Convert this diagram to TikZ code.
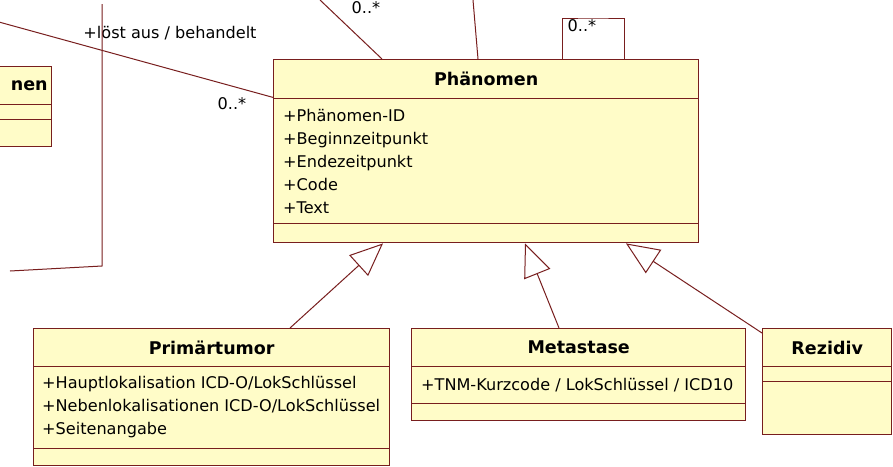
\documentclass[tikz,border=0pt]{standalone}
\usepackage{fontspec}
\setmainfont{DejaVu Sans}
\usetikzlibrary{arrows.meta,calc}
\definecolor{umlline}{RGB}{120,30,30}
\definecolor{umlfill}{RGB}{255,252,200}
\newcommand\umlfont{\fontsize{16.1}{23}\selectfont}
\newcommand\umlhdrfont{\fontsize{17.5}{23}\selectfont\bfseries}
\begin{document}
\begin{tikzpicture}[x=1pt,y=-1pt,
  comp/.style={draw=umlline, fill=umlfill, line width=1.4pt, inner sep=0pt, anchor=north west, font=\umlfont},
  hdr/.style={comp, font=\umlhdrfont},
  attrtext/.style={font=\umlfont, align=left, inner sep=0pt, anchor=west},
  conn/.style={draw=umlline, line width=1pt},
  gen/.style={conn, -{Triangle[open,length=33pt,width=28pt]}},
  lbl/.style={font=\umlfont, inner sep=0pt}
]
\clip (0,0) rectangle (893,466);
\fill[white] (0,0) rectangle (893,466);

% Phänomen
\node[hdr, minimum width=425pt, minimum height=39pt] (phH) at (273,59) {Phänomen};
\node[comp, minimum width=425pt, minimum height=125pt] (phA) at (273,98) {};
\node[attrtext] (phT) at ($(phA.west)+(10,0)$)
  {+Phänomen-ID\\+Beginnzeitpunkt\\+Endezeitpunkt\\+Code\\+Text};
\node[comp, minimum width=425pt, minimum height=19pt] (phO) at (273,223) {};

% Primärtumor
\node[hdr, minimum width=356pt, minimum height=38pt] (ptH) at (33,328) {Primärtumor};
\node[comp, minimum width=356pt, minimum height=82pt] (ptA) at (33,366) {};
\node[attrtext] (ptT) at ($(ptA.west)+(9,-1)$)
  {+Hauptlokalisation ICD-O/LokSchlüssel\\+Nebenlokalisationen ICD-O/LokSchlüssel\\+Seitenangabe};
\node[comp, minimum width=356pt, minimum height=17pt] (ptO) at (33,448) {};

% Metastase
\node[hdr, minimum width=334pt, minimum height=38pt] (mtH) at (411,328) {Metastase};
\node[comp, minimum width=334pt, minimum height=37pt] (mtA) at (411,366) {};
\node[attrtext] (mtT) at ($(mtA.west)+(10,0)$) {+TNM-Kurzcode / LokSchlüssel / ICD10};
\node[comp, minimum width=334pt, minimum height=17pt] (mtO) at (411,403) {};

% Rezidiv
\node[hdr, minimum width=129pt, minimum height=38pt] (rzH) at (762,328) {Rezidiv};
\node[comp, minimum width=129pt, minimum height=15pt] (rzA) at (762,366) {};
\node[comp, minimum width=129pt, minimum height=53pt] (rzO) at (762,381) {};

% left partial class
\node[hdr, minimum width=151pt, minimum height=38pt, text width=143pt, inner xsep=4pt, align=right] (lfH) at (-100,66) {nen};
\node[comp, minimum width=151pt, minimum height=15pt] (lfA) at (-100,104) {};
\node[comp, minimum width=151pt, minimum height=27pt] (lfO) at (-100,119) {};

% generalisations
\draw[gen] ($(ptH.north west)+(257,0)$) -- ($(phO.south west)+(110,0)$);
\draw[gen] ($(mtH.north west)+(148,0)$) -- ($(phO.south west)+(252,0)$);
\draw[gen] ($(rzH.north west)+(0,5)$) -- ($(phO.south west)+(353,0)$);

% associations
\coordinate (la) at (0,22.3);
\draw[conn] (la) -- ($(phH.south west)+(0,-2)$);
\node[lbl] (lbA) at (170,33) {+löst aus / behandelt};
\node[lbl] (lbB) at (232,104) {0..*};

\coordinate (va) at (102,4);
\coordinate (vb) at (102,266);
\coordinate (vc) at (10,271);
\draw[conn] (va) -- (vb) -- (vc);

\coordinate (ta) at (320,0);
\draw[conn] (ta) -- ($(phH.north west)+(109,0)$);
\node[lbl] (lbC) at (366,8) {0..*};
\coordinate (tb) at (473,0);
\draw[conn] (tb) -- ($(phH.north west)+(205,0)$);

\draw[conn] ($(phH.north west)+(289,0)$) |- (593,18) -| ($(phH.north west)+(351,0)$);
\node[lbl] (lbD) at (582,26) {0..*};
\end{tikzpicture}
\end{document}
